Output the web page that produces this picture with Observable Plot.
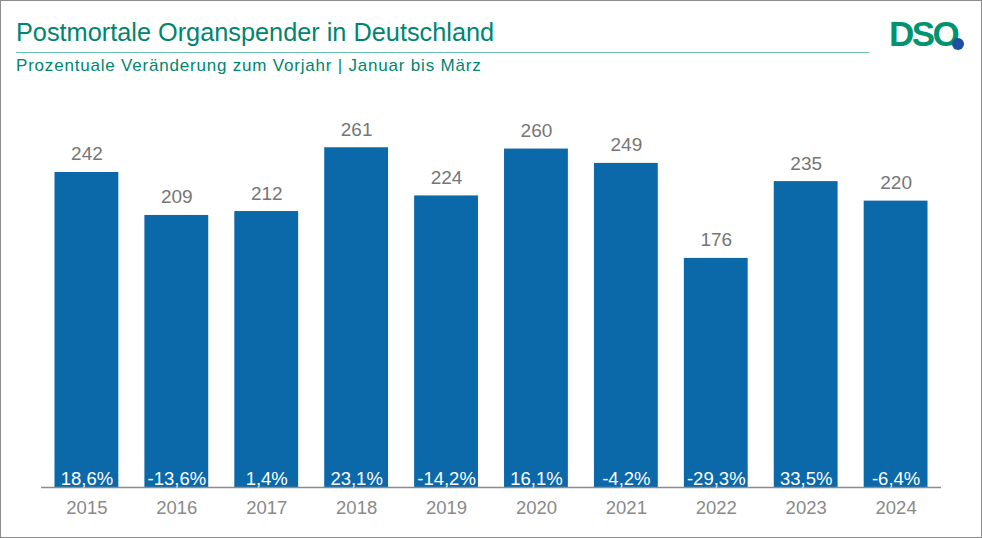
<!DOCTYPE html>
<html>
<head>
<meta charset="utf-8">
<script src="https://cdn.jsdelivr.net/npm/d3@7"></script>
<script src="https://cdn.jsdelivr.net/npm/@observablehq/plot@0.6"></script>
<style>
  html, body { margin: 0; padding: 0; background: #fff; }
  #frame { position: relative; width: 982px; height: 538px; box-sizing: border-box; border: 1px solid #8c8c8c; overflow: hidden; font-family: "Liberation Sans", Arial, sans-serif; }
  #title { position: absolute; left: 15px; top: 17px; font-size: 25.3px; color: #00856F; white-space: nowrap; }
  #rule { position: absolute; left: 15px; top: 51px; width: 853px; height: 1px; background: #6cc3ae; }
  #subtitle { position: absolute; left: 15px; top: 55px; font-size: 17px; letter-spacing: 0.8px; color: #00856F; white-space: pre; }
  #logo { position: absolute; left: 888px; top: 15px; font-size: 35px; font-weight: bold; color: #00936f; letter-spacing: -2.5px; line-height: 1; }
  #dot { position: absolute; left: 951px; top: 37px; width: 12px; height: 12px; border-radius: 50%; background: #1d4fa3; }
  #chart { position: absolute; left: 0; top: 89px; }
</style>
</head>
<body>
<div id="frame">
  <div id="title">Postmortale Organspender in Deutschland</div>
  <div id="rule"></div>
  <div id="subtitle">Prozentuale Veränderung zum Vorjahr | Januar bis März</div>
  <div id="logo">DSO</div>
  <div id="dot"></div>
  <div id="chart"></div>
</div>
<script>
const years = ["2015","2016","2017","2018","2019","2020","2021","2022","2023","2024"];
const donors = [242, 209, 212, 261, 224, 260, 249, 176, 235, 220];
const changes = [18.6, -13.6, 1.4, 23.1, -14.2, 16.1, -4.2, -29.3, 33.5, -6.4];

const data = years.map((y, i) => ({year: y, value: donors[i], change: changes[i]}));
const fmt = v => v.toFixed(1).replace(".", ",") + "%";

const chart = Plot.plot({
  width: 980,
  height: 446,
  marginLeft: 40,
  marginRight: 40,
  marginTop: 6.5,
  marginBottom: 49,
  style: { fontFamily: "'Liberation Sans', Arial, sans-serif", background: "transparent" },
  x: { domain: years, paddingInner: 0.29, paddingOuter: 0.15, align: 0.5, round: false, label: null },
  y: { domain: [0, 300], axis: null },
  marks: [
    Plot.barY(data, { x: "year", y: "value", fill: "#0B68A9" }),
    Plot.ruleY([0], { stroke: "#8c8c8c", strokeWidth: 1.3 }),
    Plot.text(data, { x: "year", y: "value", text: d => String(d.value), lineAnchor: "bottom", dy: -12, fill: "#767676", fontSize: 19 }),
    Plot.text(data, { x: "year", y: 0, text: d => fmt(d.change), lineAnchor: "bottom", dy: -3, fill: "#ffffff", fontSize: 18.5 }),
    Plot.axisX({ tickSize: 0, tickPadding: 13, fontSize: 18.5, color: "#8a8a8a", label: null })
  ]
});
document.getElementById("chart").appendChild(chart);
</script>
</body>
</html>
